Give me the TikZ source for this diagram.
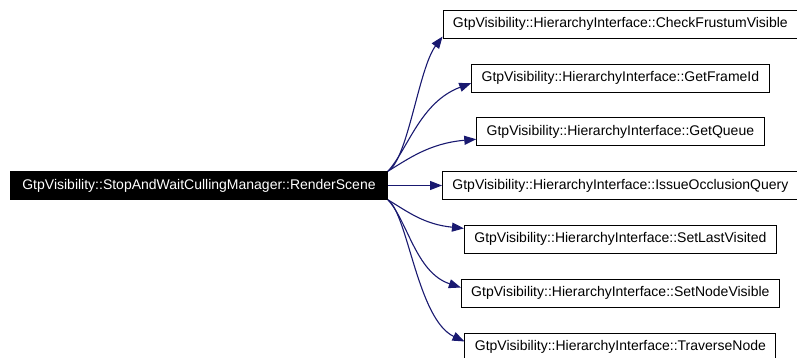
\documentclass[tikz,border=0pt]{standalone}
\usepackage{fontspec}
\setmainfont{Liberation Sans}
\usetikzlibrary{arrows.meta, positioning}
\definecolor{edgeblue}{HTML}{191970}

\begin{document}
\begin{tikzpicture}[
x=1pt, y=1pt,
node distance=25pt,
>={Triangle[length=12pt,width=9pt]},
every node/.style={font=\fontsize{14}{16}\selectfont},
fn/.style={draw=black, line width=0.8pt, minimum height=28pt, inner xsep=10pt, inner ysep=0pt},
call/.style={->, draw=edgeblue, line width=1.1pt}
]

\useasboundingbox (0,0) rectangle (797,-357);

\node (main) [fn, fill=black, text=white, inner xsep=12pt] at (199,-185.5) {GtpVisibility::StopAndWaitCullingManager::RenderScene};

\node (iov) [fn, right=54pt of main] {GtpVisibility::HierarchyInterface::IssueOcclusionQuery};
\node (gq) [fn, above=of iov] {GtpVisibility::HierarchyInterface::GetQueue};
\node (gfi) [fn, above=of gq] {GtpVisibility::HierarchyInterface::GetFrameId};
\node (cfv) [fn, above=of gfi] {GtpVisibility::HierarchyInterface::CheckFrustumVisible};
\node (slv) [fn, below=of iov] {GtpVisibility::HierarchyInterface::SetLastVisited};
\node (snv) [fn, below=of slv] {GtpVisibility::HierarchyInterface::SetNodeVisible};
\node (tn) [fn, below=of snv] {GtpVisibility::HierarchyInterface::TraverseNode};

\draw[call] (main.north east) .. controls +(20,12) and +(-24,-32) .. (cfv.184);
\draw[call] (main.north east) .. controls +(20,22) and +(-51,-19) .. (gfi.182);
\draw[call] (main.north east) .. controls +(20,12) and +(-47,-4) .. (gq.183);
\draw[call] (main) -- (iov);
\draw[call] (main.south east) .. controls +(20,-12) and +(-40,4) .. (slv.176);
\draw[call] (main.south east) .. controls +(20,-22) and +(-45,15) .. (snv.178);
\draw[call] (main.south east) .. controls +(20,-15) and +(-47,22) .. (tn.178);

\end{tikzpicture}
\end{document}
